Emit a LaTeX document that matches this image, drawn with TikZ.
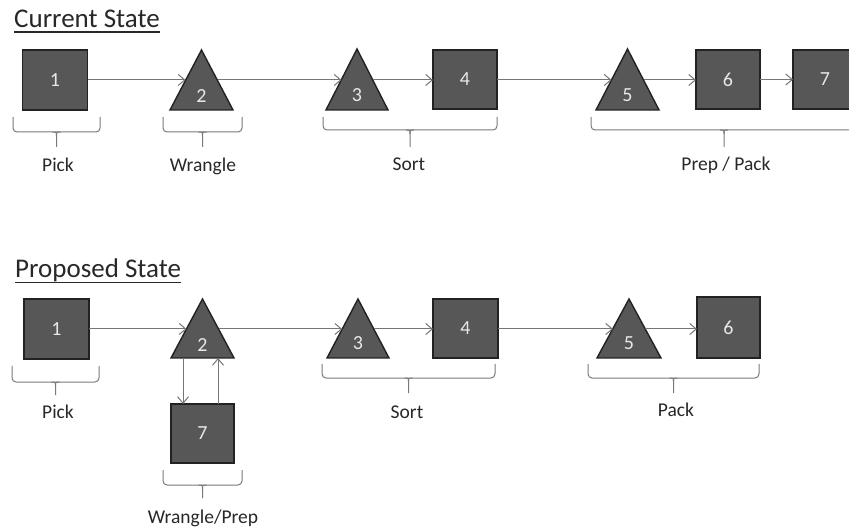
\documentclass[tikz,border=0pt]{standalone}
\usepackage{fontspec}
\setmainfont{Carlito}
\usetikzlibrary{arrows.meta}
\definecolor{boxfill}{HTML}{575757}
\definecolor{boxline}{HTML}{222222}
\definecolor{connc}{HTML}{767676}
\definecolor{brc}{HTML}{7A7A7A}
\definecolor{txt}{HTML}{282828}
\definecolor{numc}{HTML}{E8E8E8}
\newcommand\mybrace[5]{%
  \draw[bracestyle] (#1,#3) [rounded corners=4pt] -- (#1,#4) -- (#2,#4) -- (#2,#3);
  \draw[bracestyle] ({(#1+#2)/2-4},#4) .. controls ({(#1+#2)/2},#4) .. ({(#1+#2)/2},#4+4) -- ({(#1+#2)/2},#5);
  \draw[bracestyle] ({(#1+#2)/2+4},#4) .. controls ({(#1+#2)/2},#4) .. ({(#1+#2)/2},#4+4);
}
\begin{document}
\begin{tikzpicture}[x=1pt,y=-1pt,
  sq/.style={draw=boxline, fill=boxfill, line width=1.4pt, minimum width=64pt, minimum height=59pt, inner sep=0pt, outer sep=0pt, text=numc, font=\fontsize{20}{20}\selectfont},
  tri/.style={draw=boxline, fill=boxfill, line width=1.4pt, line join=miter},
  numtxt/.style={text=numc, font=\fontsize{20}{20}\selectfont, inner sep=0pt},
  conn/.style={draw=connc, line width=1pt, -{Straight Barb[length=6.5pt,width=11pt]}},
  bracestyle/.style={draw=brc, line width=1pt},
  lbl/.style={text=txt, font=\fontsize{19.5}{20}\selectfont, inner sep=0pt, anchor=base},
  titlestyle/.style={text=txt, font=\fontsize{27}{27}\selectfont, inner sep=0pt, anchor=base west}]
\clip (0,0) rectangle (849,529);
\fill[white] (0,0) rectangle (849,529);

% ---------------- Current State ----------------
\node[titlestyle] (title1) at (14,28) {Current State};
\draw[txt, line width=1.3pt] ([yshift=-4pt]title1.base west) -- ([yshift=-4pt]title1.base east);

\node[sq, minimum width=65pt, minimum height=60pt] (a1) at (55,80) {1};
\draw[tri] (170,110) -- (201.5,50) -- (233,110) -- cycle;
\node[numtxt] (a2) at (201.5,96) {2};
\coordinate (a2w) at (185.5,80);
\coordinate (a2e) at (217.5,80);
\draw[tri] (326,110) -- (357,49) -- (388,110) -- cycle;
\node[numtxt] (a3) at (357,95.5) {3};
\coordinate (a3w) at (341.5,80);
\coordinate (a3e) at (372.5,80);
\node[sq] (a4) at (465,79.5) {4};
\draw[tri] (596,110) -- (627.5,49) -- (659,110) -- cycle;
\node[numtxt] (a5) at (627.5,95.5) {5};
\coordinate (a5w) at (611.5,80);
\coordinate (a5e) at (643.5,80);
\node[sq] (a6) at (728,79.5) {6};
\node[sq] (a7) at (825,79.5) {7};

\draw[conn] (a1.east |- a2w) -- (a2w);
\draw[conn] (a2e) -- (a3w);
\draw[conn] (a3e) -- (a4.west |- a3e);
\draw[conn] (a4.east |- a5w) -- (a5w);
\draw[conn] (a5e) -- (a6.west |- a5e);
\draw[conn] (a6.east) -- (a7.west);

\mybrace{13}{100}{117}{132}{147}
\mybrace{163}{242}{117}{132}{147}
\mybrace{323}{497}{117}{130}{147}
\mybrace{591}{857}{117}{130}{147}

\node[lbl] (l1) at (58,171.5) {Pick};
\node[lbl] (l2) at (203,171.5) {Wrangle};
\node[lbl] (l3) at (409,171) {Sort};
\node[lbl] (l4) at (726,170.5) {Prep / Pack};

% ---------------- Proposed State ----------------
\node[titlestyle] (title2) at (15,278) {Proposed State};
\draw[txt, line width=1.3pt] ([yshift=-4.5pt]title2.base west) -- ([yshift=-4.5pt]title2.base east);

\node[sq, minimum width=65pt, minimum height=60pt] (b1) at (56.5,329) {1};
\draw[tri] (171,358) -- (202.5,299) -- (234,358) -- cycle;
\node[numtxt] (b2) at (202.5,345) {2};
\coordinate (b2w) at (186.5,329);
\coordinate (b2e) at (218.5,329);
\coordinate (b2d) at (183,358);
\coordinate (b2u) at (218,358);
\draw[tri] (327,358) -- (358,299) -- (389,358) -- cycle;
\node[numtxt] (b3) at (358,343) {3};
\coordinate (b3w) at (342.2,329);
\coordinate (b3e) at (373.8,329);
\node[sq, minimum width=65pt] (b4) at (465.5,328.5) {4};
\draw[tri] (597,358) -- (629,299) -- (661,358) -- cycle;
\node[numtxt] (b5) at (629,343) {5};
\coordinate (b5w) at (613,329);
\coordinate (b5e) at (645,329);
\node[sq, minimum width=63pt, minimum height=61pt] (b6) at (728.5,327.5) {6};
\node[sq, minimum width=63pt] (b7) at (202.5,433.5) {7};

\draw[conn] (b1.east |- b2w) -- (b2w);
\draw[conn] (b2e) -- (b3w);
\draw[conn] (b3e) -- (b4.west |- b3e);
\draw[conn] (b4.east |- b5w) -- (b5w);
\draw[conn] (b5e) -- (b6.west |- b5e);
\draw[conn] (b2d) -- (b2d |- b7.north);
\draw[conn] (b2u |- b7.north) -- (b2u);

\mybrace{12}{99}{366}{382}{395}
\mybrace{163}{242}{470}{485}{498}
\mybrace{322}{495}{364}{378}{393}
\mybrace{588}{759}{364}{378}{393}

\node[lbl] (m1) at (58,418) {Pick};
\node[lbl] (m2) at (407,418) {Sort};
\node[lbl] (m3) at (676,417) {Pack};
\node[lbl] (m4) at (203,523.5) {Wrangle/Prep};
\end{tikzpicture}
\end{document}
